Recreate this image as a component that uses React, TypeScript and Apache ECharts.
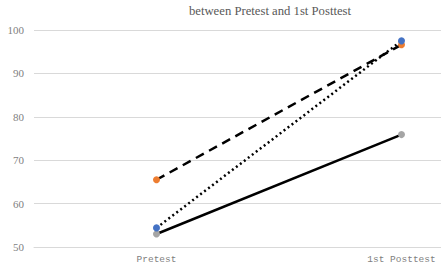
import React, { useEffect, useRef } from "react";
import * as echarts from "echarts";

const categories = ["Pretest", "1st Posttest"];
const seriesDotted = [54.4, 97.5];
const seriesDashed = [65.5, 96.6];
const seriesSolid = [53.0, 75.9];
const titleText = "between Pretest and 1st Posttest";

export default function App() {
  const ref = useRef<HTMLDivElement>(null);
  useEffect(() => {
    const chart = echarts.init(ref.current!, null, { renderer: "svg" });
    const font = "'Liberation Serif', serif";
    chart.setOption({
      animation: false,
      title: {
        text: titleText,
        left: "center",
        top: -1,
        textStyle: { fontFamily: font, fontSize: 12.7, fontWeight: "normal", color: "#595959" },
      },
      grid: { left: 34, right: 16, top: 30, bottom: 30 },
      xAxis: {
        type: "category",
        data: categories,
        boundaryGap: true,
        axisLine: { lineStyle: { color: "#d9d9d9" } },
        axisTick: { show: false },
        axisLabel: { fontFamily: "'Liberation Mono', monospace", fontSize: 9.5, color: "#7f7f7f", margin: 7 },
      },
      yAxis: {
        type: "value",
        min: 50,
        max: 100,
        interval: 10,
        axisLine: { show: false },
        axisTick: { show: false },
        splitLine: { lineStyle: { color: "#d9d9d9" } },
        axisLabel: { fontFamily: font, fontSize: 11, color: "#7f7f7f", margin: 10 },
      },
      series: [
        {
          type: "line",
          data: seriesDashed,
          symbol: "circle",
          symbolSize: 7,
          itemStyle: { color: "#ed7d31" },
          lineStyle: { color: "#000", width: 2.5, type: [9, 6] },
        },
        {
          type: "line",
          data: seriesSolid,
          symbol: "circle",
          symbolSize: 7,
          itemStyle: { color: "#a5a5a5" },
          lineStyle: { color: "#000", width: 2.5, type: "solid" },
        },
        {
          type: "line",
          data: seriesDotted,
          symbol: "circle",
          symbolSize: 7,
          itemStyle: { color: "#4472c4" },
          lineStyle: { color: "#000", width: 2.5, type: [2, 3] },
        },
      ],
    });
    return () => chart.dispose();
  }, []);
  return (
    <div style={{ position: "fixed", left: 0, top: 0, width: 441, height: 277, overflow: "hidden", background: "#fff" }}>
      <div ref={ref} style={{ width: 540, height: 277 }} />
    </div>
  );
}
